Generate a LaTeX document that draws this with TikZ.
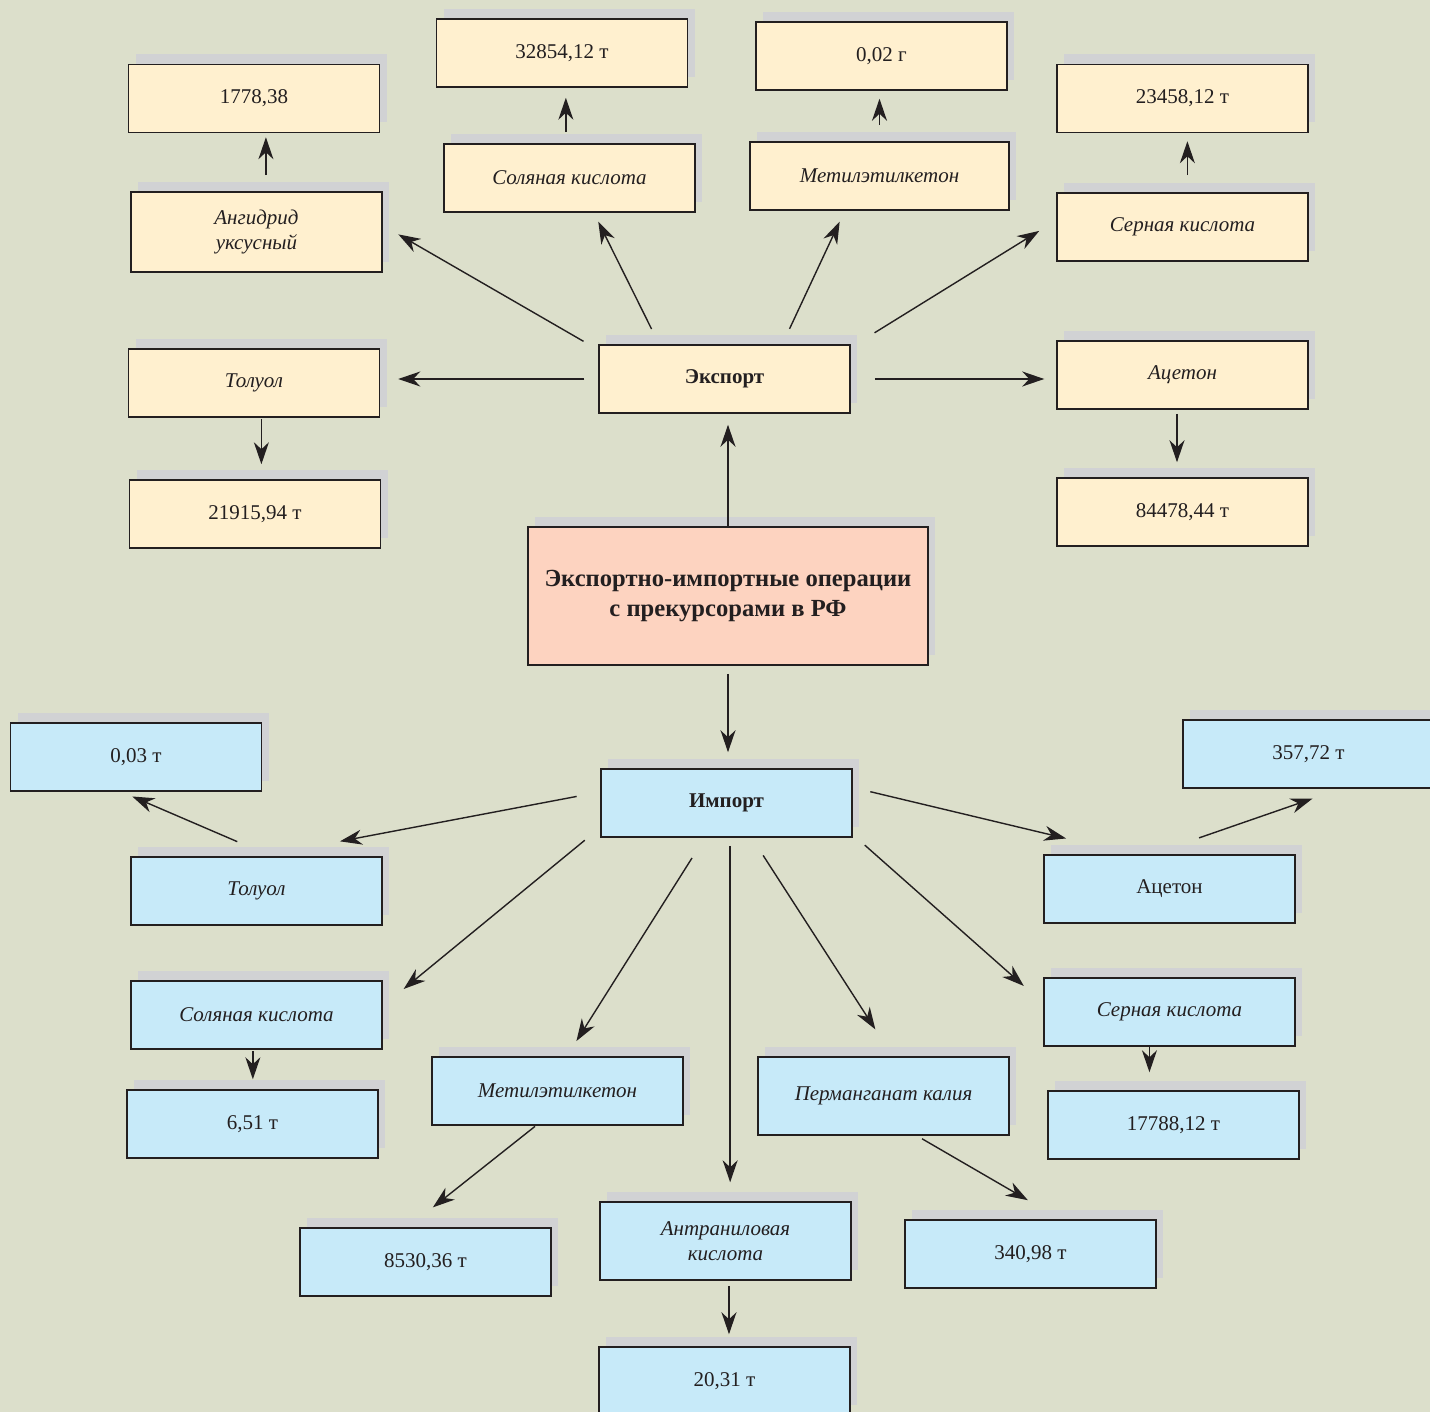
\documentclass[tikz,border=0pt]{standalone}
\usepackage{fontspec}
\setmainfont{Liberation Serif}
\usetikzlibrary{arrows.meta,shadows}
\definecolor{bgcol}{HTML}{DCDFCB}
\definecolor{expcol}{HTML}{FFF0CF}
\definecolor{impcol}{HTML}{C7EAF9}
\definecolor{maincol}{HTML}{FDD3C0}
\definecolor{shadecol}{HTML}{D1D2D4}
\definecolor{inkcol}{HTML}{231F20}
\tikzset{
  box/.style={draw=inkcol, line width=0.75pt, text=inkcol, align=center,
    minimum width=125.5pt, minimum height=34pt, inner sep=2pt,
    font=\fontsize{10.5}{12.5}\selectfont,
    general shadow={shadow xshift=3.5pt, shadow yshift=5pt, fill=shadecol}},
  ebox/.style={box, fill=expcol},
  ibox/.style={box, fill=impcol},
  subst/.style={font=\fontsize{10.5}{12.5}\selectfont\itshape},
  head/.style={font=\fontsize{10.5}{12.5}\selectfont\bfseries},
  arr/.style={-{Stealth[length=11pt,width=7.5pt,inset=3.5pt]}, line width=0.7pt, draw=inkcol},
}
\begin{document}
\begin{tikzpicture}[x=0.5pt, y=-0.5pt]
  \useasboundingbox (0,0) rectangle (1430,1412);
  \clip (0,0) rectangle (1430,1412);
  \fill[bgcol] (0,0) rectangle (1430,1412);
  % centre
  \node[box, fill=maincol, minimum width=200pt, minimum height=69pt,
        font=\fontsize{12.3}{15}\selectfont\bfseries] (main) at (728,596)
        {Экспортно-импортные операции\\с прекурсорами в РФ};
  % export
  \node[ebox, head] (exp) at (724.5,379) {Экспорт};
  \node[ebox, subst, minimum height=40pt] (eanh) at (256.5,232) {Ангидрид\\уксусный};
  \node[ebox] (eanhq) at (254,98.5) {1778,38};
  \node[ebox, subst] (esol) at (569.5,178) {Соляная кислота};
  \node[ebox] (esolq) at (562,53) {32854,12 т};
  \node[ebox, subst, minimum width=129.5pt] (emet) at (879.5,176) {Метилэтилкетон};
  \node[ebox] (emetq) at (881.5,56) {0,02 г};
  \node[ebox, subst] (eser) at (1182.5,227) {Серная кислота};
  \node[ebox] (eserq) at (1182.5,98.5) {23458,12 т};
  \node[ebox, subst] (etol) at (254,383) {Толуол};
  \node[ebox] (etolq) at (255,514) {21915,94 т};
  \node[ebox, subst] (eace) at (1182.5,375) {Ацетон};
  \node[ebox] (eaceq) at (1182.5,512) {84478,44 т};
  % import
  \node[ibox, head] (imp) at (726.5,803) {Импорт};
  \node[ibox, subst] (itol) at (256.5,891) {Толуол};
  \node[ibox] (itolq) at (136,757) {0,03 т};
  \node[ibox] (iace) at (1169.5,889) {Ацетон};
  \node[ibox] (iaceq) at (1308.5,754) {357,72 т};
  \node[ibox, subst] (isol) at (256.5,1015) {Соляная кислота};
  \node[ibox] (isolq) at (252.5,1124) {6,51 т};
  \node[ibox, subst] (imet) at (557.5,1091) {Метилэтилкетон};
  \node[ibox] (imetq) at (425.5,1262) {8530,36 т};
  \node[ibox, subst, minimum height=39pt] (iant) at (725.5,1241) {Антраниловая\\кислота};
  \node[ibox] (iantq) at (724.5,1381) {20,31 т};
  \node[ibox, subst, minimum height=39pt] (iper) at (883.5,1096) {Перманганат калия};
  \node[ibox] (iperq) at (1030.5,1254) {340,98 т};
  \node[ibox, subst] (iser) at (1169.5,1012) {Серная кислота};
  \node[ibox] (iserq) at (1173.5,1125) {17788,12 т};
  % export arrows
  \draw[arr, shorten >=5.5pt] (main.north) -- (main.north |- exp.south);
  \draw[arr, shorten <=8.5pt, shorten >=9pt] (exp.167) -- (eanh.3);
  \draw[arr, shorten <=8.5pt, shorten >=5pt] (exp.152) -- (esol.305);
  \draw[arr, shorten <=8.5pt, shorten >=6pt] (exp.31) -- (emet.225);
  \draw[arr, shorten <=14pt, shorten >=10pt] (exp.14) -- (eser.177);
  \draw[arr, shorten <=7pt, shorten >=9pt] (exp.west) -- (exp.west -| etol.east);
  \draw[arr, shorten <=12pt, shorten >=6pt] (exp.east) -- (exp.east -| eace.west);
  \draw[arr, shorten <=8pt, shorten >=2pt] (eanh.77) -- (eanh.77 |- eanhq.south);
  \draw[arr, shorten <=5.5pt, shorten >=5pt] (esol.96) -- (esol.96 |- esolq.south);
  \draw[arr, shorten <=8pt, shorten >=4pt] (emet.north) -- (emet.north |- emetq.south);
  \draw[arr, shorten <=8.5pt, shorten >=4pt] (eser.82) -- (eser.82 |- eserq.south);
  \draw[arr, shorten <=0.5pt, shorten >=7.5pt] (etol.282) -- (etol.282 |- etolq.north);
  \draw[arr, shorten <=2pt, shorten >=7.5pt] (eace.261) -- (eace.261 |- eaceq.north);
  % import arrows
  \draw[arr, shorten <=4pt, shorten >=8pt] (main.south) -- (main.south |- imp.north);
  \draw[arr, shorten <=12pt, shorten >=40pt] (imp.175) -- (itol.82);
  \draw[arr, shorten <=18.5pt, shorten >=6pt] (itol.67) -- (itolq.247);
  \draw[arr, shorten <=9pt, shorten >=34pt] (imp.7) -- (iace.137);
  \draw[arr, shorten <=25pt, shorten >=15pt] (iace.117) -- (iaceq.313);
  \draw[arr, shorten <=10pt, shorten >=13.5pt] (imp.191) -- (isol.4);
  \draw[arr, shorten <=12pt, shorten >=9pt] (imp.238) -- (imet.75);
  \draw[arr, shorten <=4pt, shorten >=9.5pt] (imp.276) -- (imp.276 |- iant.north);
  \draw[arr, shorten <=10.5pt, shorten >=16pt] (imp.306) -- (iper.77);
  \draw[arr, shorten <=8pt, shorten >=13pt] (imp.346) -- (iser.176);
  \draw[arr, shorten <=0.5pt, shorten >=5pt] (isol.264) -- (isol.264 |- isolq.north);
  \draw[arr, shorten <=0.5pt, shorten >=16pt] (imet.238) -- (imetq.117);
  \draw[arr, shorten <=2.5pt, shorten >=6pt] (iant.275) -- (iant.275 |- iantq.north);
  \draw[arr, shorten <=3pt, shorten >=19pt] (iper.310) -- (iperq.49);
  \draw[arr, shorten >=9pt] (iser.240) -- (iser.240 |- iserq.north);
\end{tikzpicture}
\end{document}
